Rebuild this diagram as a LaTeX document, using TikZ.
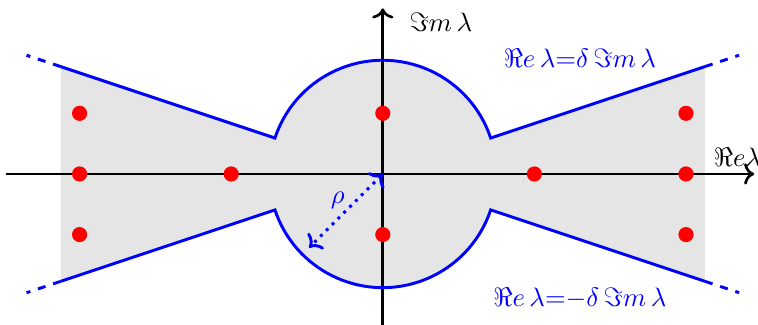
\documentclass[tikz,border=0pt]{standalone}
\usepackage{amsmath,amssymb}
\usetikzlibrary{arrows.meta}
\tikzset{
  axis/.style={-{To}, line width=1pt},
  bound/.style={blue, line width=1.1pt},
  ext/.style={bound, dashed},
  region/.style={fill=gray!20},
  pole/.style={fill=red},
  rad/.style={{To}-{To}, blue, line width=1.1pt, dotted},
  lbl/.style={inner sep=2pt},
  blbl/.style={lbl, text=blue},
}

\begin{document}
\begin{tikzpicture}[x=0.5cm, y=0.5cm]
  \useasboundingbox (-10.1,-3.96) rectangle (9.9,4.59);

  % sector plus disc of radius rho
  \fill[region] (-8.5,2.833) -- (161.57:3) arc (161.57:18.43:3) -- (8.5,2.833)
    -- (8.5,-2.833) -- (-18.43:3) arc (-18.43:-161.57:3) -- (-8.5,-2.833) -- cycle;

  \coordinate (o) at (0,0);
  \coordinate (xl) at (-9.95,0);
  \coordinate (xr) at (9.8,0);
  \coordinate (yb) at (0,-4.2);
  \coordinate (yt) at (0,4.37);
  \draw[axis] (xl) -- (xr);
  \draw[axis] (yb) -- (yt);
  \node[lbl, anchor=west] (re) at (8.58,0.45) {$\Re e\lambda$};
  \node[lbl, anchor=west] (im) at (0.55,4.0) {$\Im m\,\lambda$};

  % boundary
  \draw[bound] (-8.5,2.833) -- (161.57:3) arc (161.57:18.43:3) -- (8.5,2.833);
  \draw[bound] (-8.5,-2.833) -- (-161.57:3) arc (-161.57:-18.43:3) -- (8.5,-2.833);
  \draw[ext] (-8.5,2.833) -- (-9.4,3.133);
  \draw[ext] (8.5,2.833) -- (9.4,3.133);
  \draw[ext] (-8.5,-2.833) -- (-9.4,-3.133);
  \draw[ext] (8.5,-2.833) -- (9.4,-3.133);

  \node[blbl] (up) at (5.2,3.06) {$\Re e\,\lambda{=}\delta\,\Im m\,\lambda$};
  \node[blbl] (lo) at (5.2,-3.27) {$\Re e\,\lambda{=}{-}\delta\,\Im m\,\lambda$};

  % radius
  \coordinate (r) at (225:2.75);
  \draw[rad] (o) -- (r);
  \node[blbl] (rho) at (-1.19,-0.69) {$\rho$};

  % eigenvalues
  \foreach \x/\y in {-8/1.6, -8/0, -8/-1.6, -4/0, 0/1.6, 0/-1.6, 4/0, 8/1.6, 8/0, 8/-1.6}
    \fill[pole] (\x,\y) circle (1mm);
\end{tikzpicture}
\end{document}
